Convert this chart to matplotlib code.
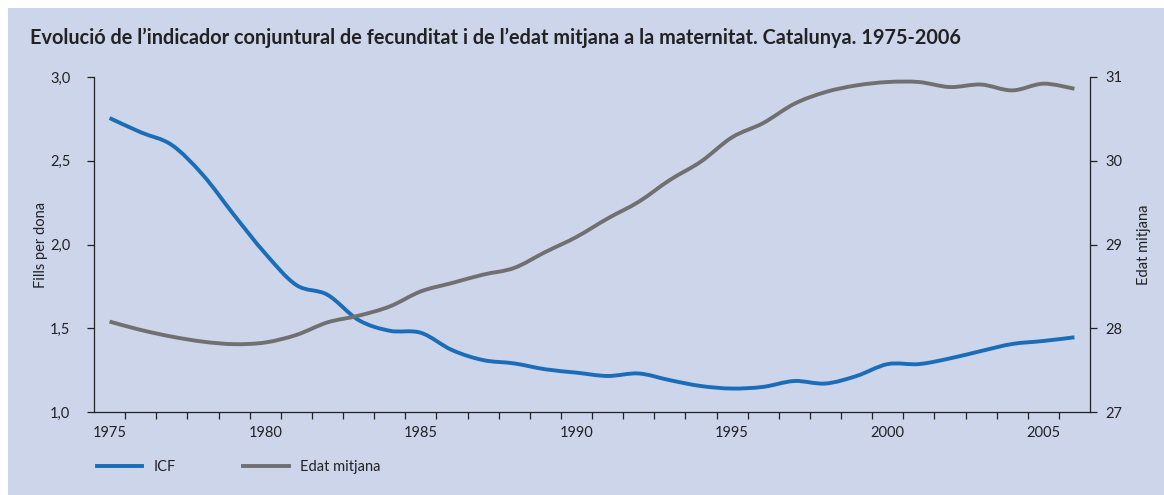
import numpy as np
import matplotlib
matplotlib.use("Agg")
import matplotlib.pyplot as plt
from matplotlib.path import Path
from matplotlib.patches import PathPatch, Rectangle
from matplotlib.lines import Line2D

# ── dades ─────────────────────────────────────────────────────────────────
years = list(range(1975, 2007))
icf = [2.755, 2.67, 2.594, 2.415, 2.176, 1.947, 1.758, 1.70, 1.549, 1.485,
       1.473, 1.37, 1.31, 1.29, 1.255, 1.235, 1.215, 1.23, 1.19, 1.155,
       1.14, 1.15, 1.185, 1.17, 1.215, 1.286, 1.286, 1.32, 1.364, 1.406,
       1.424, 1.446]
edat = [28.08, 27.98, 27.90, 27.84, 27.81, 27.83, 27.92, 28.07, 28.15, 28.26,
        28.44, 28.54, 28.64, 28.72, 28.91, 29.09, 29.31, 29.51, 29.77, 29.99,
        30.28, 30.45, 30.68, 30.82, 30.90, 30.94, 30.94, 30.88, 30.91, 30.84,
        30.92, 30.86]
left_ticks = [1.0, 1.5, 2.0, 2.5, 3.0]
left_labels = ["1,0", "1,5", "2,0", "2,5", "3,0"]
right_ticks = [27, 28, 29, 30, 31]
year_labels = [1975, 1980, 1985, 1990, 1995, 2000, 2005]

TITLE = ("Evolució de l’indicador conjuntural de fecunditat i de l’edat mitjana "
         "a la maternitat. Catalunya. 1975-2006")

# ── estil ─────────────────────────────────────────────────────────────────
C_BG = "#CDD5EB"
C_ICF = "#1A6DB6"
C_EDAT = "#707070"
C_TXT = "#222222"
LW = 2.8

plt.rcParams.update({
    "font.family": ["Lato", "DejaVu Sans"],
    "font.size": 10.5,
    "text.color": C_TXT,
    "axes.labelcolor": C_TXT,
    "xtick.color": C_TXT,
    "ytick.color": C_TXT,
})


def smooth_patch(x, y, color):
    # corba suavitzada tipus Excel (Catmull-Rom -> Bezier)
    p = np.column_stack([x, y]).astype(float)
    ext = np.vstack([p[0], p, p[-1]])
    verts = [p[0]]
    codes = [Path.MOVETO]
    for i in range(len(p) - 1):
        p0, p1, p2, p3 = ext[i], ext[i + 1], ext[i + 2], ext[i + 3]
        verts += [p1 + (p2 - p0) / 6, p2 - (p3 - p1) / 6, p2]
        codes += [Path.CURVE4] * 3
    return PathPatch(Path(verts, codes), fill=False, edgecolor=color,
                     lw=LW, capstyle="butt", joinstyle="round")


fig = plt.figure(figsize=(11.64, 4.95), dpi=100)
fig.patches.append(Rectangle((8 / 1164, 0), 1, 1 - 8 / 495, transform=fig.transFigure,
                             facecolor=C_BG, edgecolor="none", zorder=-10))

ax = fig.add_axes([94 / 1164, 1 - 412 / 495, (1090 - 94) / 1164, (412 - 77) / 495])
ax.patch.set_visible(False)
ax2 = ax.twinx()
ax2.patch.set_visible(False)

ax.add_patch(smooth_patch(years, icf, C_ICF))
ax2.add_patch(smooth_patch(years, edat, C_EDAT))

ax.set_xlim(1974.5, 2006.5)
ax.set_ylim(1.0, 3.0)
ax2.set_ylim(27, 31)

for a in (ax, ax2):
    for s in a.spines.values():
        s.set_linewidth(0.9)
        s.set_color(C_TXT)
ax.spines["top"].set_visible(False)
ax.spines["right"].set_visible(False)
ax2.spines["top"].set_visible(False)
ax2.spines["left"].set_visible(False)
ax2.spines["bottom"].set_visible(False)

ax.set_yticks(left_ticks)
ax.set_yticklabels(left_labels)
ax.tick_params(axis="y", direction="out", length=5, width=0.9, pad=12, labelsize=10.5)
ax2.set_yticks(right_ticks)
ax2.tick_params(axis="y", direction="out", length=5, width=0.9, pad=6, labelsize=10.5)

ax.set_xticks(year_labels)
ax.set_xticklabels([str(y) for y in year_labels])
ax.set_xticks(np.arange(1975.5, 2006, 1.0), minor=True)
ax.tick_params(axis="x", which="major", length=0, pad=10, labelsize=10.5)
ax.tick_params(axis="x", which="minor", direction="out", length=5, width=0.9)

ax.set_ylabel("Fills per dona", fontsize=10.5, labelpad=1.5)
ax2.set_ylabel("Edat mitjana", fontsize=10.5, labelpad=10.5)

fig.text(30 / 1164, 1 - 38 / 495, TITLE, fontsize=14.3, fontweight="bold",
         va="center", ha="left")

handles = [Line2D([], [], color=C_ICF, lw=LW), Line2D([], [], color=C_EDAT, lw=LW)]
fig.legend(handles, ["ICF", "Edat mitjana"], loc="center left",
           bbox_to_anchor=(84 / 1164, 1 - 467 / 495), ncol=2, frameon=False,
           handlelength=3.1, handletextpad=0.8, columnspacing=4.6, fontsize=10.5)

fig.savefig("out.png", dpi=100)
